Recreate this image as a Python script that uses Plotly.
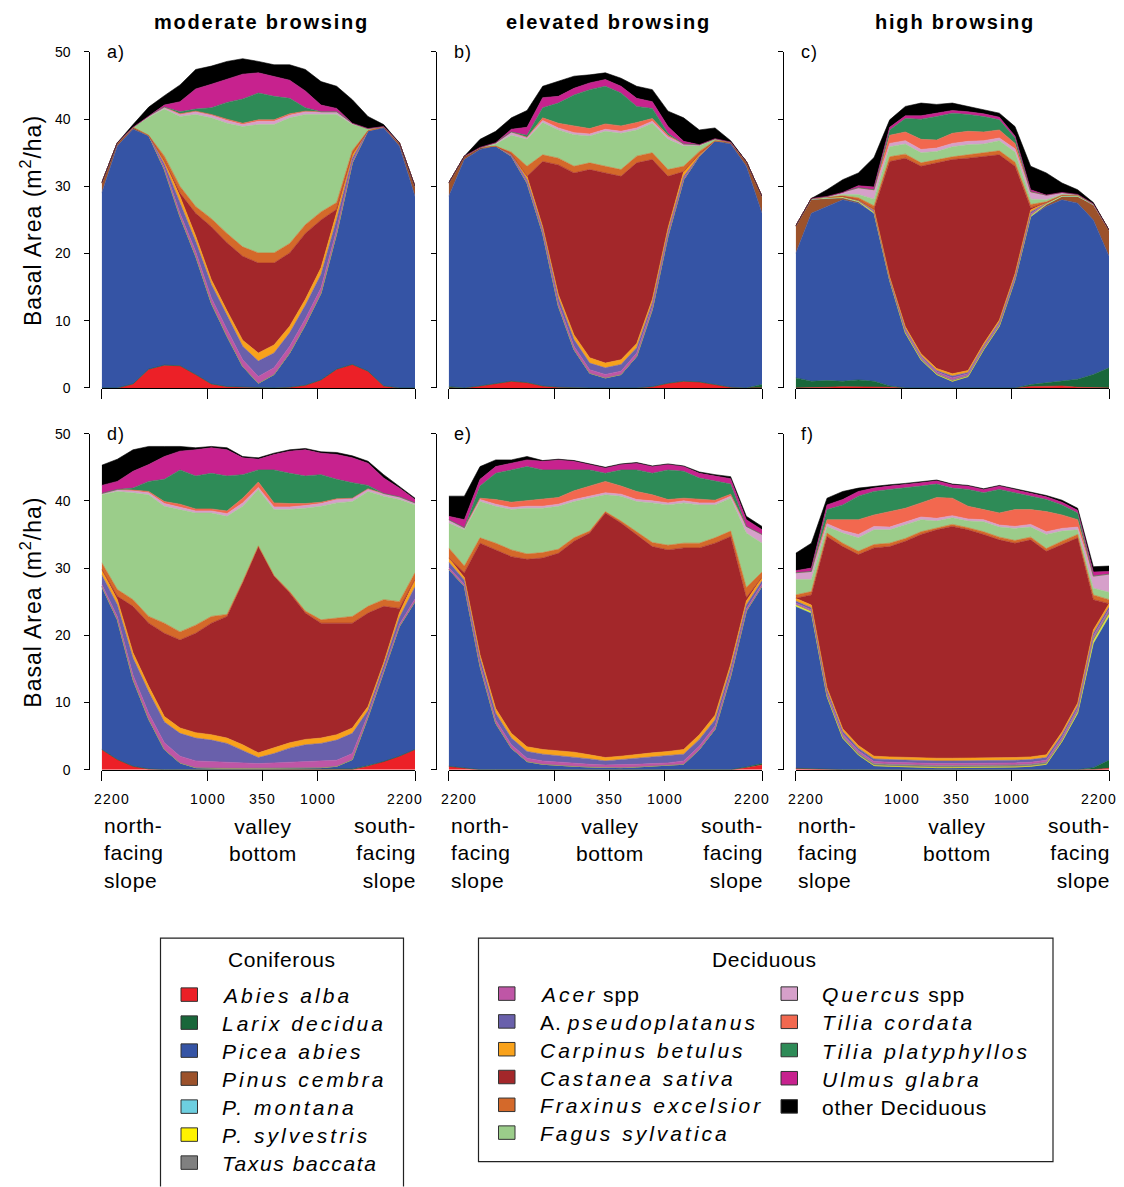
import plotly.graph_objects as go

W, H = 1124, 1187

# ---------------- data ----------------
POS = [0, 5, 10, 15, 20, 25, 30, 35, 40, 45, 50, 55, 60, 65, 70, 75, 80, 85, 90, 95, 100]
TICK_POS = [0, 33.8, 51.4, 68.9, 100]
TICK_TEXT = ["2200", "1000", "350", "1000", "2200"]
Y_TICKS = [0, 10, 20, 30, 40, 50]

SPECIES = ["Abies alba", "Larix decidua", "Picea abies", "Pinus cembra", "P. montana",
           "P. sylvestris", "Taxus baccata", "Acer spp", "A. pseudoplatanus",
           "Carpinus betulus", "Castanea sativa", "Fraxinus excelsior", "Fagus sylvatica",
           "Quercus spp", "Tilia cordata", "Tilia platyphyllos", "Ulmus glabra",
           "other Deciduous"]
COLORS = ["#ec2027", "#19673a", "#3554a5", "#9c522b", "#6dcfe0", "#fff200", "#808080",
          "#bf56a6", "#6960ab", "#f9a21b", "#a3272a", "#d4692a", "#9bcd8a",
          "#d6a0ca", "#f2684f", "#2e8b57", "#c7228e", "#000000"]

# panel a  (moderate browsing, top row)
a_abies = [0, 0, 0.6, 2.8, 3.4, 3.3, 2.0, 0.6, 0.2, 0.1, 0, 0, 0.1, 0.4, 1.2, 2.8, 3.5, 2.5, 0.3, 0, 0]
a_larix = [0, 0, 0, 0, 0, 0, 0, 0, 0, 0, 0, 0, 0, 0, 0, 0, 0, 0, 0, 0, 0]
a_picea = [29, 36, 37.9, 34.7, 29.1, 22.2, 17.6, 12.0, 7.5, 3.1, 0.7, 2.0, 5.1, 9.0, 12.9, 20.2, 30.0, 35.7, 38.4, 36, 28.5]
a_cembra = [1.5, 0.5, 0.3, 0.1, 0, 0, 0, 0, 0, 0, 0, 0, 0, 0, 0, 0, 0, 0.1, 0.2, 0.5, 1.5]
a_montana = [0, 0, 0, 0, 0, 0, 0, 0, 0, 0, 0, 0, 0, 0, 0, 0, 0, 0, 0, 0, 0]
a_sylv = [0, 0, 0, 0, 0, 0, 0, 0, 0, 0, 0, 0, 0, 0, 0, 0, 0, 0, 0, 0, 0]
a_taxus = [0, 0, 0, 0, 0, 0, 0, 0, 0, 0, 0, 0, 0, 0, 0, 0, 0, 0, 0, 0, 0]
a_acer = [0, 0, 0, 0, 0.3, 0.5, 0.7, 0.8, 1.0, 1.0, 1.0, 1.0, 1.0, 0.9, 0.8, 0.6, 0.2, 0, 0, 0, 0]
a_apseudo = [0, 0, 0, 0, 0.5, 1.5, 1.5, 2.0, 2.0, 2.0, 2.3, 2.2, 2.0, 2.0, 2.0, 1.5, 0.5, 0, 0, 0, 0]
a_carpinus = [0, 0, 0, 0, 0.5, 1.0, 0.8, 0.7, 0.8, 0.9, 1.2, 1.2, 1.0, 0.9, 1.0, 1.0, 0.6, 0, 0, 0, 0]
a_castanea = [0, 0, 0, 0, 0, 0.5, 3.4, 7.9, 10.1, 12.5, 13.4, 12.2, 10.9, 9.8, 7.1, 0.5, 0, 0, 0, 0, 0]
a_fraxinus = [0, 0, 0, 0, 0.7, 1.0, 1.0, 1.2, 1.4, 1.4, 1.5, 1.5, 1.4, 1.3, 1.2, 1.0, 0.5, 0, 0, 0, 0]
a_fagus = [0, 0, 0, 2.7, 7.0, 10.4, 13.7, 15.0, 16.4, 17.9, 19.1, 19.1, 18.7, 16.4, 14.5, 13.1, 3.9, 0.3, 0, 0, 0]
a_quercus = [0, 0, 0, 0.2, 0.3, 0.3, 0.4, 0.4, 0.4, 0.3, 0.5, 0.5, 0.4, 0.4, 0.4, 0.4, 0.2, 0, 0, 0, 0]
a_tcord = [0, 0, 0, 0, 0, 0.1, 0.1, 0.1, 0.2, 0.2, 0.2, 0.2, 0.2, 0.1, 0, 0, 0, 0, 0, 0, 0]
a_tplat = [0, 0, 0, 0, 0, 0.3, 0.3, 1.0, 2.5, 3.6, 4.0, 3.5, 2.3, 0.5, 0, 0, 0, 0, 0, 0, 0]
a_ulmus = [0, 0, 0, 0, 0.3, 1.5, 3.0, 3.5, 3.5, 3.7, 3.0, 3.0, 2.7, 2.5, 1.0, 0.5, 0, 0, 0, 0, 0]
a_other = [0, 0, 0.4, 1.3, 1.4, 2.5, 2.9, 2.7, 2.6, 2.3, 1.7, 1.7, 2.3, 3.2, 3.5, 3.3, 3.5, 1.8, 0.3, 0, 0]

# panel b  (elevated browsing, top row)
b_abies = [0, 0, 0.3, 0.7, 1.0, 0.8, 0.3, 0.1, 0, 0, 0, 0, 0, 0.2, 0.7, 1.0, 0.9, 0.5, 0.1, 0, 0]
b_larix = [0.2, 0, 0, 0, 0, 0, 0, 0, 0, 0, 0, 0, 0, 0, 0, 0, 0, 0, 0, 0, 0.5]
b_picea = [28.3, 34, 35.2, 35.3, 33.5, 29.7, 22.7, 12.1, 5.7, 2.2, 1.5, 2.0, 4.7, 11.5, 21.9, 30.0, 33.6, 36.2, 36.2, 33, 25.5]
b_cembra = [2.0, 0.5, 0.3, 0, 0, 0, 0, 0, 0, 0, 0, 0, 0, 0, 0, 0, 0, 0.1, 0.3, 0.7, 2.5]
b_montana = [0, 0, 0, 0, 0, 0, 0, 0, 0, 0, 0, 0, 0, 0, 0, 0, 0, 0, 0, 0, 0]
b_sylv = [0, 0, 0, 0, 0, 0, 0, 0, 0, 0, 0, 0, 0, 0, 0, 0, 0, 0, 0, 0, 0]
b_taxus = [0, 0, 0, 0, 0, 0, 0, 0, 0, 0, 0, 0, 0, 0, 0, 0, 0, 0, 0, 0, 0]
b_acer = [0, 0, 0, 0, 0.1, 0.2, 0.3, 0.4, 0.5, 0.5, 0.5, 0.5, 0.5, 0.4, 0.3, 0.2, 0, 0, 0, 0, 0]
b_apseudo = [0, 0, 0, 0, 0.1, 0.3, 0.4, 0.8, 1.0, 1.0, 1.0, 1.0, 0.8, 0.6, 0.5, 0.3, 0, 0, 0, 0, 0]
b_carpinus = [0, 0, 0, 0, 0.1, 0.5, 0.3, 0.5, 0.7, 0.8, 0.7, 0.7, 0.6, 0.5, 0.4, 0.7, 0.3, 0, 0, 0, 0]
b_castanea = [0, 0, 0, 0, 0, 0, 9.7, 19.3, 24.1, 28.0, 28.3, 27.3, 26.9, 20.8, 7.7, 0, 0, 0, 0, 0, 0]
b_fraxinus = [0, 0, 0, 0, 0.3, 1.5, 1.0, 1.0, 1.0, 1.0, 1.0, 1.0, 1.0, 1.0, 1.0, 0.8, 0.4, 0, 0, 0, 0]
b_fagus = [0, 0, 0, 0.3, 2.5, 4.0, 4.8, 4.2, 4.7, 4.0, 5.2, 5.4, 3.9, 4.4, 4.5, 3.0, 0.8, 0.3, 0, 0, 0]
b_quercus = [0, 0, 0, 0.2, 0.5, 0.3, 0.3, 0.3, 0.3, 0.3, 0.3, 0.3, 0.3, 0.3, 0.4, 0.3, 0.2, 0, 0, 0, 0]
b_tcord = [0, 0, 0, 0, 0, 0, 0.4, 0.7, 1.0, 0.8, 0.8, 0.8, 0.8, 0.4, 0.2, 0, 0, 0, 0, 0, 0]
b_tplat = [0, 0, 0, 0, 0, 0.3, 1.5, 3.0, 4.6, 5.8, 5.6, 4.9, 2.4, 1.5, 0.3, 0, 0, 0, 0, 0, 0]
b_ulmus = [0, 0, 0, 0, 0.4, 1.2, 1.5, 1.0, 1.0, 1.0, 1.0, 1.0, 1.2, 1.0, 1.0, 0.4, 0, 0, 0, 0, 0]
b_other = [0, 0, 1.2, 1.7, 1.7, 2.5, 1.7, 2.2, 1.8, 1.2, 1.0, 1.2, 1.8, 1.8, 2.3, 3.5, 2.2, 1.6, 0.2, 0, 0]

# panel c  (high browsing, top row)
c_abies = [0, 0, 0.1, 0.2, 0.2, 0.2, 0.1, 0, 0, 0, 0, 0, 0, 0, 0, 0.2, 0.3, 0.3, 0.1, 0, 0]
c_larix = [1.5, 1.0, 1.0, 0.8, 1.0, 0.8, 0.2, 0, 0, 0, 0, 0, 0, 0, 0, 0.3, 0.5, 0.8, 1.2, 2.0, 3.0]
c_picea = [18.5, 25.0, 25.9, 27.0, 26.3, 25.0, 15.7, 8.2, 4.2, 2.0, 1.0, 1.7, 5.7, 9.2, 16.1, 25.0, 26.2, 26.9, 26.2, 23.0, 16.6]
c_cembra = [4.0, 2.0, 1.2, 0.3, 0.2, 0, 0, 0, 0, 0, 0, 0, 0, 0, 0, 0, 0.3, 0.5, 1.0, 2.2, 3.8]
c_montana = [0.1, 0.1, 0, 0, 0, 0, 0, 0, 0, 0, 0, 0, 0, 0, 0, 0, 0, 0, 0, 0.1, 0.1]
c_sylv = [0, 0.1, 0.2, 0.2, 0.2, 0.1, 0, 0, 0, 0, 0, 0, 0, 0, 0, 0.1, 0.2, 0.2, 0.2, 0.1, 0]
c_taxus = [0, 0, 0, 0, 0, 0.1, 0.1, 0.2, 0.2, 0.2, 0.2, 0.2, 0.2, 0.2, 0.1, 0.1, 0, 0, 0, 0, 0]
c_acer = [0, 0, 0, 0, 0, 0.1, 0.1, 0.2, 0.2, 0.2, 0.3, 0.2, 0.2, 0.2, 0.2, 0.2, 0, 0, 0, 0, 0]
c_apseudo = [0, 0, 0, 0, 0, 0.1, 0.1, 0.2, 0.2, 0.2, 0.3, 0.2, 0.2, 0.2, 0.3, 0.3, 0, 0, 0, 0, 0]
c_carpinus = [0, 0, 0, 0, 0.1, 0.2, 0.2, 0.3, 0.3, 0.3, 0.3, 0.3, 0.3, 0.3, 0.3, 0.3, 0.1, 0, 0, 0, 0]
c_castanea = [0, 0, 0, 0, 0, 0, 17.2, 25.1, 27.9, 30.6, 31.9, 31.6, 27.9, 24.6, 16.0, 0.3, 0, 0, 0, 0, 0]
c_fraxinus = [0, 0, 0, 0.1, 0.3, 0.5, 0.7, 0.6, 0.5, 0.5, 0.4, 0.5, 0.5, 0.6, 0.6, 0.5, 0.1, 0, 0, 0, 0]
c_fagus = [0, 0, 0, 0.2, 0.5, 1.0, 1.5, 1.5, 1.5, 1.2, 1.5, 1.5, 1.3, 1.5, 1.5, 0.8, 0.3, 0.1, 0, 0, 0]
c_quercus = [0, 0, 0.1, 0.3, 1.0, 1.3, 0.5, 0.5, 0.5, 0.5, 0.5, 0.5, 0.5, 0.4, 0.5, 1.0, 0.7, 0.3, 0.1, 0, 0]
c_tcord = [0, 0, 0, 0, 0, 0.1, 1.2, 1.3, 1.5, 1.2, 1.5, 1.5, 1.3, 1.2, 0.8, 0.1, 0, 0, 0, 0, 0]
c_tplat = [0, 0, 0, 0, 0, 0, 0.8, 2.0, 3.0, 3.5, 3.0, 2.5, 2.3, 1.5, 0.8, 0, 0, 0, 0, 0, 0]
c_ulmus = [0, 0, 0, 0, 0.3, 0.4, 0.4, 0.4, 0.5, 0.5, 0.4, 0.4, 0.4, 0.4, 0.3, 0.3, 0, 0, 0, 0, 0]
c_other = [0, 0, 1.0, 1.9, 1.9, 4.4, 1.1, 1.4, 1.9, 1.3, 1.1, 0.8, 0.6, 0.6, 1.4, 3.5, 3.3, 1.4, 0.7, 0.2, 0]

# panel d  (moderate browsing, bottom row)
d_abies = [3.0, 1.5, 0.5, 0.1, 0, 0, 0, 0, 0, 0, 0, 0, 0, 0, 0, 0, 0, 0.5, 1.2, 2.0, 3.0]
d_larix = [0, 0, 0, 0, 0, 0, 0, 0, 0, 0, 0, 0, 0, 0, 0, 0, 0.1, 0.1, 0, 0, 0]
d_picea = [24.3, 20.8, 12.9, 7.4, 3.0, 1.0, 0.3, 0.2, 0.2, 0.2, 0.2, 0.2, 0.2, 0.2, 0.3, 0.5, 1.4, 7.2, 13.3, 19.3, 22.0]
d_cembra = [0, 0, 0, 0, 0, 0, 0, 0, 0, 0, 0, 0, 0, 0, 0, 0, 0, 0, 0, 0, 0]
d_montana = [0, 0, 0, 0, 0, 0, 0, 0, 0, 0, 0, 0, 0, 0, 0, 0, 0, 0, 0, 0, 0]
d_sylv = [0, 0, 0, 0, 0, 0, 0, 0, 0, 0, 0, 0, 0, 0, 0, 0, 0, 0, 0, 0, 0]
d_taxus = [0, 0, 0, 0, 0, 0, 0, 0, 0, 0, 0, 0, 0, 0, 0, 0, 0, 0, 0, 0, 0]
d_acer = [0.3, 0.5, 0.7, 0.9, 1.0, 1.0, 1.0, 1.0, 1.0, 0.9, 0.7, 0.8, 0.9, 0.9, 0.9, 0.9, 0.9, 0.4, 0.3, 0.3, 0.4]
d_apseudo = [1.4, 1.7, 2.5, 3.2, 3.1, 3.4, 3.4, 3.2, 2.7, 1.8, 0.9, 1.4, 2.1, 2.6, 2.7, 3.0, 3.0, 0.6, 0.7, 1.0, 1.8]
d_carpinus = [0.8, 0.8, 0.8, 0.8, 0.8, 0.8, 0.8, 0.8, 0.8, 0.8, 0.7, 0.8, 0.8, 0.8, 0.8, 0.8, 0.8, 0.6, 0.4, 0.7, 1.1]
d_castanea = [0, 0.5, 6.9, 9.4, 12.4, 13.1, 14.8, 16.6, 18.1, 24.1, 30.7, 25.6, 22.3, 18.8, 17.1, 16.6, 15.6, 13.9, 8.4, 0.7, 0]
d_fraxinus = [1.0, 1.0, 1.0, 1.0, 1.5, 1.2, 1.2, 1.0, 0.3, 0.2, 0.1, 0.1, 0.2, 0.3, 0.5, 0.8, 1.0, 1.0, 1.0, 1.0, 1.0]
d_fagus = [10.1, 14.6, 15.9, 18.1, 17.4, 18.2, 16.7, 15.4, 14.6, 11.2, 8.4, 9.8, 12.2, 15.3, 16.9, 17.1, 17.1, 17.1, 15.4, 15.2, 10.1]
d_quercus = [0.2, 0.3, 0.3, 0.3, 0.4, 0.3, 0.3, 0.3, 0.4, 0.5, 0.3, 0.4, 0.4, 0.4, 0.4, 0.5, 0.5, 0.4, 0.4, 0.4, 0.3]
d_tcord = [0, 0, 0.1, 0.2, 0.3, 0.5, 0.3, 0.3, 0.4, 0.7, 0.8, 0.6, 0.5, 0.3, 0.2, 0.1, 0, 0, 0, 0, 0]
d_tplat = [0, 0, 0.3, 1.5, 3.3, 5.1, 4.9, 5.3, 5.2, 3.5, 1.8, 4.9, 4.5, 4.1, 4.1, 2.9, 2.3, 0.5, 0, 0, 0]
d_ulmus = [1.2, 1.2, 2.5, 2.5, 3.4, 2.8, 3.9, 3.8, 3.9, 2.5, 1.6, 2.3, 3.3, 3.9, 3.2, 3.7, 3.7, 3.3, 2.3, 1.3, 0.5]
d_other = [3.0, 3.3, 3.2, 2.7, 1.5, 0.7, 0.3, 0.2, 0.3, 0.2, 0.2, 0.2, 0.2, 0.2, 0.2, 0.3, 0.3, 0.3, 0.5, 0.3, 0.2]

# panel e  (elevated browsing, bottom row)
e_abies = [0.5, 0.2, 0, 0, 0, 0, 0, 0, 0, 0, 0, 0, 0, 0, 0, 0, 0, 0, 0, 0.3, 0.7]
e_larix = [0, 0, 0, 0, 0, 0, 0, 0, 0, 0, 0, 0, 0, 0, 0, 0, 0, 0, 0, 0.1, 0.2]
e_picea = [29.3, 27.1, 15.4, 6.9, 3.2, 1.2, 0.8, 0.6, 0.5, 0.4, 0.3, 0.3, 0.4, 0.5, 0.6, 0.8, 3.0, 6.0, 13.9, 23.2, 26.4]
e_cembra = [0, 0, 0, 0, 0, 0, 0, 0, 0, 0, 0, 0, 0, 0, 0, 0, 0, 0, 0, 0, 0]
e_montana = [0, 0, 0, 0, 0, 0, 0, 0, 0, 0, 0, 0, 0, 0, 0, 0, 0, 0, 0, 0, 0]
e_sylv = [0, 0, 0, 0, 0, 0, 0, 0, 0, 0, 0, 0, 0, 0, 0, 0, 0, 0, 0, 0, 0]
e_taxus = [0, 0, 0, 0, 0, 0, 0, 0, 0, 0, 0, 0, 0, 0, 0, 0, 0, 0, 0, 0, 0]
e_acer = [0.3, 0.3, 0.4, 0.5, 0.5, 0.5, 0.5, 0.5, 0.5, 0.4, 0.4, 0.4, 0.4, 0.4, 0.4, 0.5, 0.5, 0.5, 0.4, 0.3, 0.3]
e_apseudo = [0.8, 0.6, 0.8, 1.0, 1.0, 1.0, 1.0, 1.0, 0.9, 0.8, 0.6, 0.8, 0.9, 1.0, 1.0, 1.0, 1.0, 0.9, 0.8, 0.6, 0.5]
e_carpinus = [0.6, 0.4, 0.5, 0.7, 0.7, 0.7, 0.7, 0.7, 0.7, 0.6, 0.5, 0.5, 0.6, 0.6, 0.7, 0.7, 0.7, 0.7, 0.6, 0.6, 0.5]
e_castanea = [0, 0.7, 16.6, 23.6, 26.3, 27.9, 28.5, 29.4, 31.4, 33.0, 36.4, 34.7, 32.7, 30.7, 30.0, 30.0, 27.8, 25.6, 19.0, 0.5, 0]
e_fraxinus = [1.5, 1.0, 0.8, 1.0, 1.0, 0.8, 0.8, 0.6, 0.5, 0.3, 0.2, 0.3, 0.4, 0.6, 0.7, 0.7, 0.7, 0.8, 0.8, 1.5, 0.8]
e_fagus = [3.7, 5.4, 5.4, 5.5, 6.0, 6.8, 6.6, 6.4, 5.4, 4.9, 2.5, 3.7, 4.5, 5.9, 6.0, 6.0, 5.7, 4.9, 4.9, 8.1, 4.3]
e_quercus = [0.5, 0.3, 0.3, 0.3, 0.3, 0.3, 0.3, 0.3, 0.3, 0.3, 0.3, 0.3, 0.3, 0.3, 0.3, 0.3, 0.3, 0.3, 0.3, 1.0, 1.3]
e_tcord = [0, 0, 0.2, 0.7, 0.8, 0.8, 1.0, 1.0, 1.3, 1.5, 1.7, 1.2, 1.2, 0.9, 0.5, 0.4, 0.5, 0.4, 0.3, 0, 0]
e_tplat = [0, 0, 1.8, 3.9, 4.8, 5.1, 4.4, 4.1, 3.1, 2.4, 1.2, 2.4, 3.2, 3.2, 4.4, 4.0, 3.2, 2.8, 1.5, 0, 0]
e_ulmus = [0.5, 1.2, 1.0, 1.0, 1.0, 1.0, 1.3, 1.5, 1.3, 0.8, 0.8, 0.8, 1.0, 1.0, 0.8, 0.7, 0.7, 0.8, 0.8, 1.0, 0.7]
e_other = [3.0, 3.5, 1.9, 1.0, 0.5, 0.5, 0.1, 0.1, 0.1, 0.1, 0.1, 0.1, 0.1, 0.1, 0.1, 0.1, 0.2, 0.2, 0.3, 0.5, 0.5]

# panel f  (high browsing, bottom row)
f_abies = [0.2, 0.1, 0, 0, 0, 0, 0, 0, 0, 0, 0, 0, 0, 0, 0, 0, 0, 0, 0, 0, 0.2]
f_larix = [0, 0, 0, 0, 0, 0, 0, 0, 0, 0, 0, 0, 0, 0, 0, 0, 0, 0, 0, 0.3, 1.2]
f_picea = [24.1, 23.2, 10.9, 4.7, 2.2, 0.6, 0.5, 0.4, 0.3, 0.3, 0.3, 0.3, 0.3, 0.4, 0.4, 0.5, 0.8, 4.2, 8.4, 18.5, 21.4]
f_cembra = [0, 0, 0, 0, 0, 0, 0, 0, 0, 0, 0, 0, 0, 0, 0, 0, 0, 0, 0, 0, 0]
f_montana = [0, 0, 0, 0, 0, 0, 0, 0, 0, 0, 0, 0, 0, 0, 0, 0, 0, 0, 0, 0, 0]
f_sylv = [0.2, 0.2, 0, 0, 0, 0, 0, 0, 0, 0, 0, 0, 0, 0, 0, 0, 0, 0, 0.1, 0.3, 0.3]
f_taxus = [0.1, 0.1, 0.2, 0.3, 0.3, 0.3, 0.3, 0.3, 0.3, 0.3, 0.3, 0.3, 0.3, 0.3, 0.3, 0.3, 0.3, 0.3, 0.3, 0.5, 0.5]
f_acer = [0.2, 0.2, 0.3, 0.3, 0.3, 0.3, 0.3, 0.3, 0.3, 0.3, 0.3, 0.3, 0.3, 0.3, 0.3, 0.3, 0.3, 0.3, 0.3, 0.3, 0.2]
f_apseudo = [0.3, 0.3, 0.4, 0.4, 0.4, 0.4, 0.4, 0.4, 0.4, 0.4, 0.4, 0.4, 0.4, 0.4, 0.4, 0.4, 0.4, 0.4, 0.4, 0.4, 0.4]
f_carpinus = [0.4, 0.4, 0.4, 0.4, 0.4, 0.4, 0.4, 0.4, 0.4, 0.4, 0.4, 0.4, 0.4, 0.4, 0.4, 0.4, 0.4, 0.4, 0.4, 0.5, 0.5]
f_castanea = [0, 1.5, 22.5, 27.1, 28.4, 31.0, 31.3, 32.2, 33.3, 34.0, 34.5, 34.0, 33.3, 32.4, 31.9, 32.3, 30.3, 27.9, 24.6, 4.5, 0]
f_fraxinus = [0.5, 0.5, 0.5, 0.5, 0.5, 0.5, 0.5, 0.4, 0.4, 0.3, 0.3, 0.3, 0.4, 0.4, 0.4, 0.4, 0.4, 0.5, 0.5, 0.7, 0.6]
f_fagus = [2.3, 1.8, 1.0, 1.5, 2.0, 2.2, 2.0, 2.1, 1.8, 1.0, 1.0, 1.0, 1.5, 1.5, 1.8, 1.5, 2.1, 1.5, 0.7, 1.0, 1.1]
f_quercus = [1.0, 1.2, 0.4, 0.4, 0.5, 0.5, 0.4, 0.4, 0.4, 0.4, 0.3, 0.3, 0.3, 0.3, 0.3, 0.4, 0.4, 0.4, 0.4, 1.8, 2.7]
f_tcord = [0, 0, 0.6, 1.6, 2.2, 1.7, 2.3, 2.0, 2.1, 3.1, 2.6, 1.9, 1.5, 1.8, 2.5, 2.2, 3.0, 2.0, 1.1, 0, 0]
f_tplat = [0, 0, 1.5, 2.2, 3.5, 3.5, 3.3, 3.0, 2.5, 2.0, 1.5, 2.5, 2.5, 3.5, 2.5, 2.0, 1.8, 1.5, 1.0, 0, 0]
f_ulmus = [0.3, 0.5, 0.7, 0.8, 0.7, 0.5, 0.5, 0.5, 0.5, 0.5, 0.5, 0.5, 0.5, 0.5, 0.5, 0.5, 0.4, 0.4, 0.4, 0.6, 0.4]
f_other = [2.6, 3.7, 1.0, 1.2, 0.5, 0.3, 0.2, 0.2, 0.1, 0.1, 0.1, 0.1, 0.1, 0.1, 0.1, 0.1, 0.2, 0.3, 0.3, 0.8, 0.8]

PANEL_DATA = [
    [a_abies, a_larix, a_picea, a_cembra, a_montana, a_sylv, a_taxus, a_acer, a_apseudo, a_carpinus,
     a_castanea, a_fraxinus, a_fagus, a_quercus, a_tcord, a_tplat, a_ulmus, a_other],
    [b_abies, b_larix, b_picea, b_cembra, b_montana, b_sylv, b_taxus, b_acer, b_apseudo, b_carpinus,
     b_castanea, b_fraxinus, b_fagus, b_quercus, b_tcord, b_tplat, b_ulmus, b_other],
    [c_abies, c_larix, c_picea, c_cembra, c_montana, c_sylv, c_taxus, c_acer, c_apseudo, c_carpinus,
     c_castanea, c_fraxinus, c_fagus, c_quercus, c_tcord, c_tplat, c_ulmus, c_other],
    [d_abies, d_larix, d_picea, d_cembra, d_montana, d_sylv, d_taxus, d_acer, d_apseudo, d_carpinus,
     d_castanea, d_fraxinus, d_fagus, d_quercus, d_tcord, d_tplat, d_ulmus, d_other],
    [e_abies, e_larix, e_picea, e_cembra, e_montana, e_sylv, e_taxus, e_acer, e_apseudo, e_carpinus,
     e_castanea, e_fraxinus, e_fagus, e_quercus, e_tcord, e_tplat, e_ulmus, e_other],
    [f_abies, f_larix, f_picea, f_cembra, f_montana, f_sylv, f_taxus, f_acer, f_apseudo, f_carpinus,
     f_castanea, f_fraxinus, f_fagus, f_quercus, f_tcord, f_tplat, f_ulmus, f_other],
]
PANEL_LETTERS = ["a)", "b)", "c)", "d)", "e)", "f)"]
COLUMN_TITLES = ["moderate browsing", "elevated browsing", "high browsing"]
Y_TITLE = "Basal Area (m<sup>2</sup>/ha)"
SLOPE_LABELS = ["north-<br>facing<br>slope", "valley<br>bottom", "south-<br>facing<br>slope"]

CONIF_IDX = [0, 1, 2, 3, 4, 5, 6]
DECID_COL1 = [7, 8, 9, 10, 11, 12]
DECID_COL2 = [13, 14, 15, 16, 17]

# ---------------- layout (pixel geometry) ----------------
FONT = "Liberation Sans, Arial, sans-serif"
COL_X0 = [101.7, 448.7, 795.7]
COL_W = 313.3
YAXIS_X = [89.3, 436.0, 783.0]
ROW_Y = [(52.3, 388.3), (434.0, 770.0)]
# the page is photographed slightly squeezed vertically; compensate
Y_OFF, Y_K = 8.3, 0.9866


def px(x):
    return x / W


def py(y):
    return 1 - ((y - Y_OFF) / Y_K) / H


def sp(text, spacing):
    return '<span style="letter-spacing:%spx">%s</span>' % (spacing, text)


ITALIC_SPACING = {"Taxus baccata": 1.6}


def legend_html(name):
    if name == "other Deciduous":
        return sp(name, 0.8)
    if name.endswith(" spp"):
        return sp("<i>" + name[:-4] + "</i>", 3) + " " + sp("spp", 1)
    if name == "A. pseudoplatanus":
        return sp("A.", 1) + " " + sp("<i>pseudoplatanus</i>", 3)
    return sp("<i>" + name + "</i>", ITALIC_SPACING.get(name, 3))


fig = go.Figure()
layout = dict(
    width=W, height=H, autosize=False,
    margin=dict(l=0, r=0, t=0, b=0),
    paper_bgcolor="white", plot_bgcolor="white",
    showlegend=False,
    font=dict(family=FONT, color="black"),
)
annotations = []
shapes = []

for i, series in enumerate(PANEL_DATA):
    row, col = divmod(i, 3)
    xn = "x" if i == 0 else "x%d" % (i + 1)
    yn = "y" if i == 0 else "y%d" % (i + 1)
    xkey = "xaxis" if i == 0 else "xaxis%d" % (i + 1)
    ykey = "yaxis" if i == 0 else "yaxis%d" % (i + 1)
    for k, vals in enumerate(series):
        fig.add_trace(go.Scatter(
            x=POS, y=vals, xaxis=xn, yaxis=yn, stackgroup="g%d" % i,
            mode="lines", line=dict(width=0.6, color=COLORS[k]),
            fillcolor=COLORS[k], name=SPECIES[k], hoverinfo="skip",
        ))
    x0 = COL_X0[col]
    ytop, ybot = ROW_Y[row]
    layout[xkey] = dict(
        domain=[px(x0), px(x0 + COL_W)], range=[0, 100], anchor=yn,
        showline=True, linecolor="black", linewidth=1,
        ticks="outside", ticklen=10, tickwidth=1, tickcolor="black",
        tickvals=TICK_POS, showticklabels=False,
        showgrid=False, zeroline=False, fixedrange=True,
    )
    layout[ykey] = dict(
        domain=[py(ybot), py(ytop)], range=[0, 50], anchor="free",
        position=px(YAXIS_X[col]),
        showline=True, linecolor="black", linewidth=1,
        ticks="outside", ticklen=5, tickwidth=1, tickcolor="black",
        tickvals=Y_TICKS, showticklabels=(col == 0),
        tickfont=dict(size=14, family=FONT), ticklabelstandoff=11,
        showgrid=False, zeroline=False, fixedrange=True,
    )
    # panel letter
    annotations.append(dict(
        text=sp(PANEL_LETTERS[i], 1), xref="paper", yref="paper",
        x=px(x0 + 3), y=py(ytop + 0.5), xanchor="left", yanchor="middle",
        showarrow=False, font=dict(size=18, family=FONT),
    ))
    # bottom row tick labels + slope labels
    if row == 1:
        shifts = [10, 0, 0, 0, -10]
        for tv, tt, sh in zip(TICK_POS, TICK_TEXT, shifts):
            annotations.append(dict(
                text=sp(tt, 1.2), xref=xn, yref="paper", x=tv, y=py(799),
                xanchor="center", yanchor="middle", xshift=sh, showarrow=False,
                font=dict(size=14, family=FONT),
            ))
        annotations.append(dict(
            text=sp(SLOPE_LABELS[0], 0.6), xref="paper", yref="paper",
            x=px(x0 + 0), y=py(853), xanchor="left", yanchor="middle", align="left",
            showarrow=False, font=dict(size=21, family=FONT),
        ))
        annotations.append(dict(
            text=sp(SLOPE_LABELS[1], 0.6), xref=xn, yref="paper",
            x=TICK_POS[2], y=py(840), xanchor="center", yanchor="middle", align="center",
            showarrow=False, font=dict(size=21, family=FONT),
        ))
        annotations.append(dict(
            text=sp(SLOPE_LABELS[2], 0.6), xref="paper", yref="paper",
            x=px(x0 + COL_W + 3), y=py(853), xanchor="right", yanchor="middle", align="right",
            showarrow=False, font=dict(size=21, family=FONT),
        ))

# column titles
for col, title in enumerate(COLUMN_TITLES):
    annotations.append(dict(
        text=sp("<b>" + title + "</b>", 1.8), xref="paper", yref="paper",
        x=px(COL_X0[col] + COL_W / 2 + 3), y=py(22), xanchor="center", yanchor="middle",
        showarrow=False, font=dict(size=20, family=FONT),
    ))

# y-axis titles
for row in range(2):
    ytop, ybot = ROW_Y[row]
    annotations.append(dict(
        text=sp(Y_TITLE, 1.0), xref="paper", yref="paper", x=px(31), y=py((ytop + ybot) / 2 + 1),
        xanchor="center", yanchor="middle", textangle=-90, showarrow=False,
        font=dict(size=23, family=FONT),
    ))

# legend boxes
BOX_LINE = dict(color="#222222", width=1.2)
cx0, cx1, cy0 = px(160.5), px(403.5), py(938.5)
cyb = py(1187)
shapes.append(dict(type="path", xref="paper", yref="paper",
                   path="M %f,%f L %f,%f L %f,%f L %f,%f" % (cx0, cyb, cx0, cy0, cx1, cy0, cx1, cyb),
                   line=BOX_LINE))
shapes.append(dict(type="rect", xref="paper", yref="paper",
                   x0=px(478.5), x1=px(1053), y0=py(1162), y1=py(938.5),
                   line=BOX_LINE, fillcolor="rgba(0,0,0,0)"))
annotations.append(dict(text=sp("Coniferous", 0.6), xref="paper", yref="paper",
                        x=px(282), y=py(959.5), xanchor="center", yanchor="middle",
                        showarrow=False, font=dict(size=21, family=FONT)))
annotations.append(dict(text=sp("Deciduous", 0.6), xref="paper", yref="paper",
                        x=px(765), y=py(959.5), xanchor="center", yanchor="middle",
                        showarrow=False, font=dict(size=21, family=FONT)))

SW_W, SW_H = 16.5, 13.5
LEGEND_GROUPS = [
    (CONIF_IDX, 181.0, 220.0, 995.0, 28.0),
    (DECID_COL1, 498.5, 538.0, 994.0, 27.8),
    (DECID_COL2, 781.0, 820.0, 994.0, 28.2),
]
for idxs, sx, tx, y0, dy in LEGEND_GROUPS:
    for j, k in enumerate(idxs):
        yc = y0 + j * dy
        shapes.append(dict(type="rect", xref="paper", yref="paper",
                           x0=px(sx), x1=px(sx + SW_W), y0=py(yc + SW_H / 2), y1=py(yc - SW_H / 2),
                           line=dict(color="#333333", width=1), fillcolor=COLORS[k]))
        annotations.append(dict(text=legend_html(SPECIES[k]), xref="paper", yref="paper",
                                x=px(tx), y=py(yc + 1), xanchor="left", yanchor="middle",
                                showarrow=False, font=dict(size=21, family=FONT)))

layout["annotations"] = annotations
layout["shapes"] = shapes
fig.update_layout(**layout)

fig.write_html("out.html", config={"displayModeBar": False},
               post_script="document.body.style.margin='0';document.body.style.overflow='hidden';")
